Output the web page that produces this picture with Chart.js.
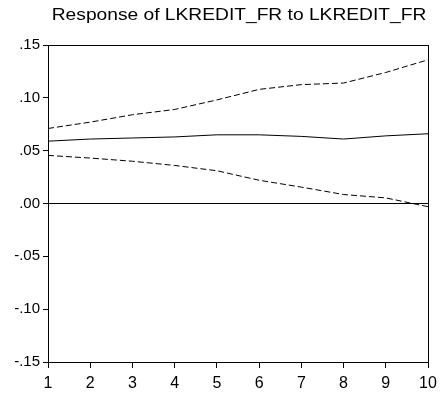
<!DOCTYPE html>
<html>
<head>
<meta charset="utf-8">
<script src="https://cdn.jsdelivr.net/npm/chart.js@4/dist/chart.umd.min.js"></script>
<style>
html,body{margin:0;padding:0;background:#fff;}
#wrap{width:443px;height:395px;position:relative;}
</style>
</head>
<body>
<div id="wrap"><canvas id="c" width="443" height="395"></canvas></div>
<script>
const titleText = "Response of LKREDIT_FR to LKREDIT_FR";
const periods = [1, 2, 3, 4, 5, 6, 7, 8, 9, 10];
const response = [0.059, 0.061, 0.062, 0.063, 0.065, 0.065, 0.0635, 0.061, 0.064, 0.066];
const upperBand = [0.071, 0.077, 0.084, 0.089, 0.098, 0.108, 0.1125, 0.114, 0.124, 0.136];
const lowerBand = [0.0455, 0.043, 0.040, 0.036, 0.031, 0.022, 0.0155, 0.0085, 0.0053, -0.003];
const yTicks = [-0.15, -0.10, -0.05, 0.00, 0.05, 0.10, 0.15];
const yTickLabels = ["-.15", "-.10", "-.05", ".00", ".05", ".10", ".15"];

const FONT = "'Liberation Sans', Arial, Helvetica, sans-serif";

function pts(arr){ return periods.map((p,i)=>({x:p, y:arr[i]})); }

const framePlugin = {
  id: 'frame',
  afterDraw(chart){
    const {ctx, chartArea:a} = chart;
    ctx.save();
    ctx.strokeStyle = '#000';
    ctx.lineWidth = 1;
    ctx.strokeRect(Math.round(a.left)+0.5, Math.round(a.top)+0.5, Math.round(a.right-a.left), Math.round(a.bottom-a.top));
    ctx.fillStyle = '#000';
    ctx.font = "16px " + FONT;
    ctx.textAlign = 'center';
    ctx.textBaseline = 'alphabetic';
    ctx.translate((a.left + a.right)/2 + 1, 19.5);
    ctx.scale(1.2, 1);
    ctx.fillText(titleText, 0, 0);
    ctx.restore();
  }
};

new Chart(document.getElementById('c'), {
  type: 'line',
  data: {
    datasets: [
      {data: pts(response), borderColor:'#000', borderWidth:1, pointRadius:0, tension:0, fill:false},
      {data: pts(upperBand), borderColor:'#000', borderWidth:1, borderDash:[6,3], pointRadius:0, tension:0, fill:false},
      {data: pts(lowerBand), borderColor:'#000', borderWidth:1, borderDash:[6,3], pointRadius:0, tension:0, fill:false}
    ]
  },
  options: {
    responsive: false,
    animation: false,
    devicePixelRatio: 1,
    layout: {padding: {top: 45, right: 15, left: 0, bottom: 0}},
    plugins: {legend:{display:false}, title:{display:false}, tooltip:{enabled:false}},
    scales: {
      x: {
        type: 'linear', min: 1, max: 10,
        afterFit(s){ s.height = 33; },
        afterBuildTicks(s){ s.ticks = periods.map(v=>({value:v})); },
        border: {display:true, color:'#000', width:1},
        grid: {drawOnChartArea:false, drawTicks:true, tickLength:6, tickColor:'#000'},
        ticks: {color:'#000', font:{family:FONT, size:16}, padding:6, maxRotation:0,
          callback: v => String(v)}
      },
      y: {
        type: 'linear', min: -0.15, max: 0.15,
        afterFit(s){ s.width = 48; },
        afterBuildTicks(s){ s.ticks = yTicks.map(v=>({value:v})); },
        border: {display:true, color:'#000', width:1},
        grid: {drawOnChartArea:true, drawTicks:true, tickLength:5, tickColor:'#000',
          color: c => (c.tick && Math.abs(c.tick.value) < 1e-9) ? '#000' : 'rgba(0,0,0,0)', lineWidth:1},
        ticks: {color:'#000', font:{family:FONT, size:15}, padding:3,
          callback: (v) => { const i = yTicks.findIndex(t => Math.abs(t - v) < 1e-9); return i >= 0 ? yTickLabels[i] : ''; }}
      }
    }
  },
  plugins: [framePlugin]
});
</script>
</body>
</html>
